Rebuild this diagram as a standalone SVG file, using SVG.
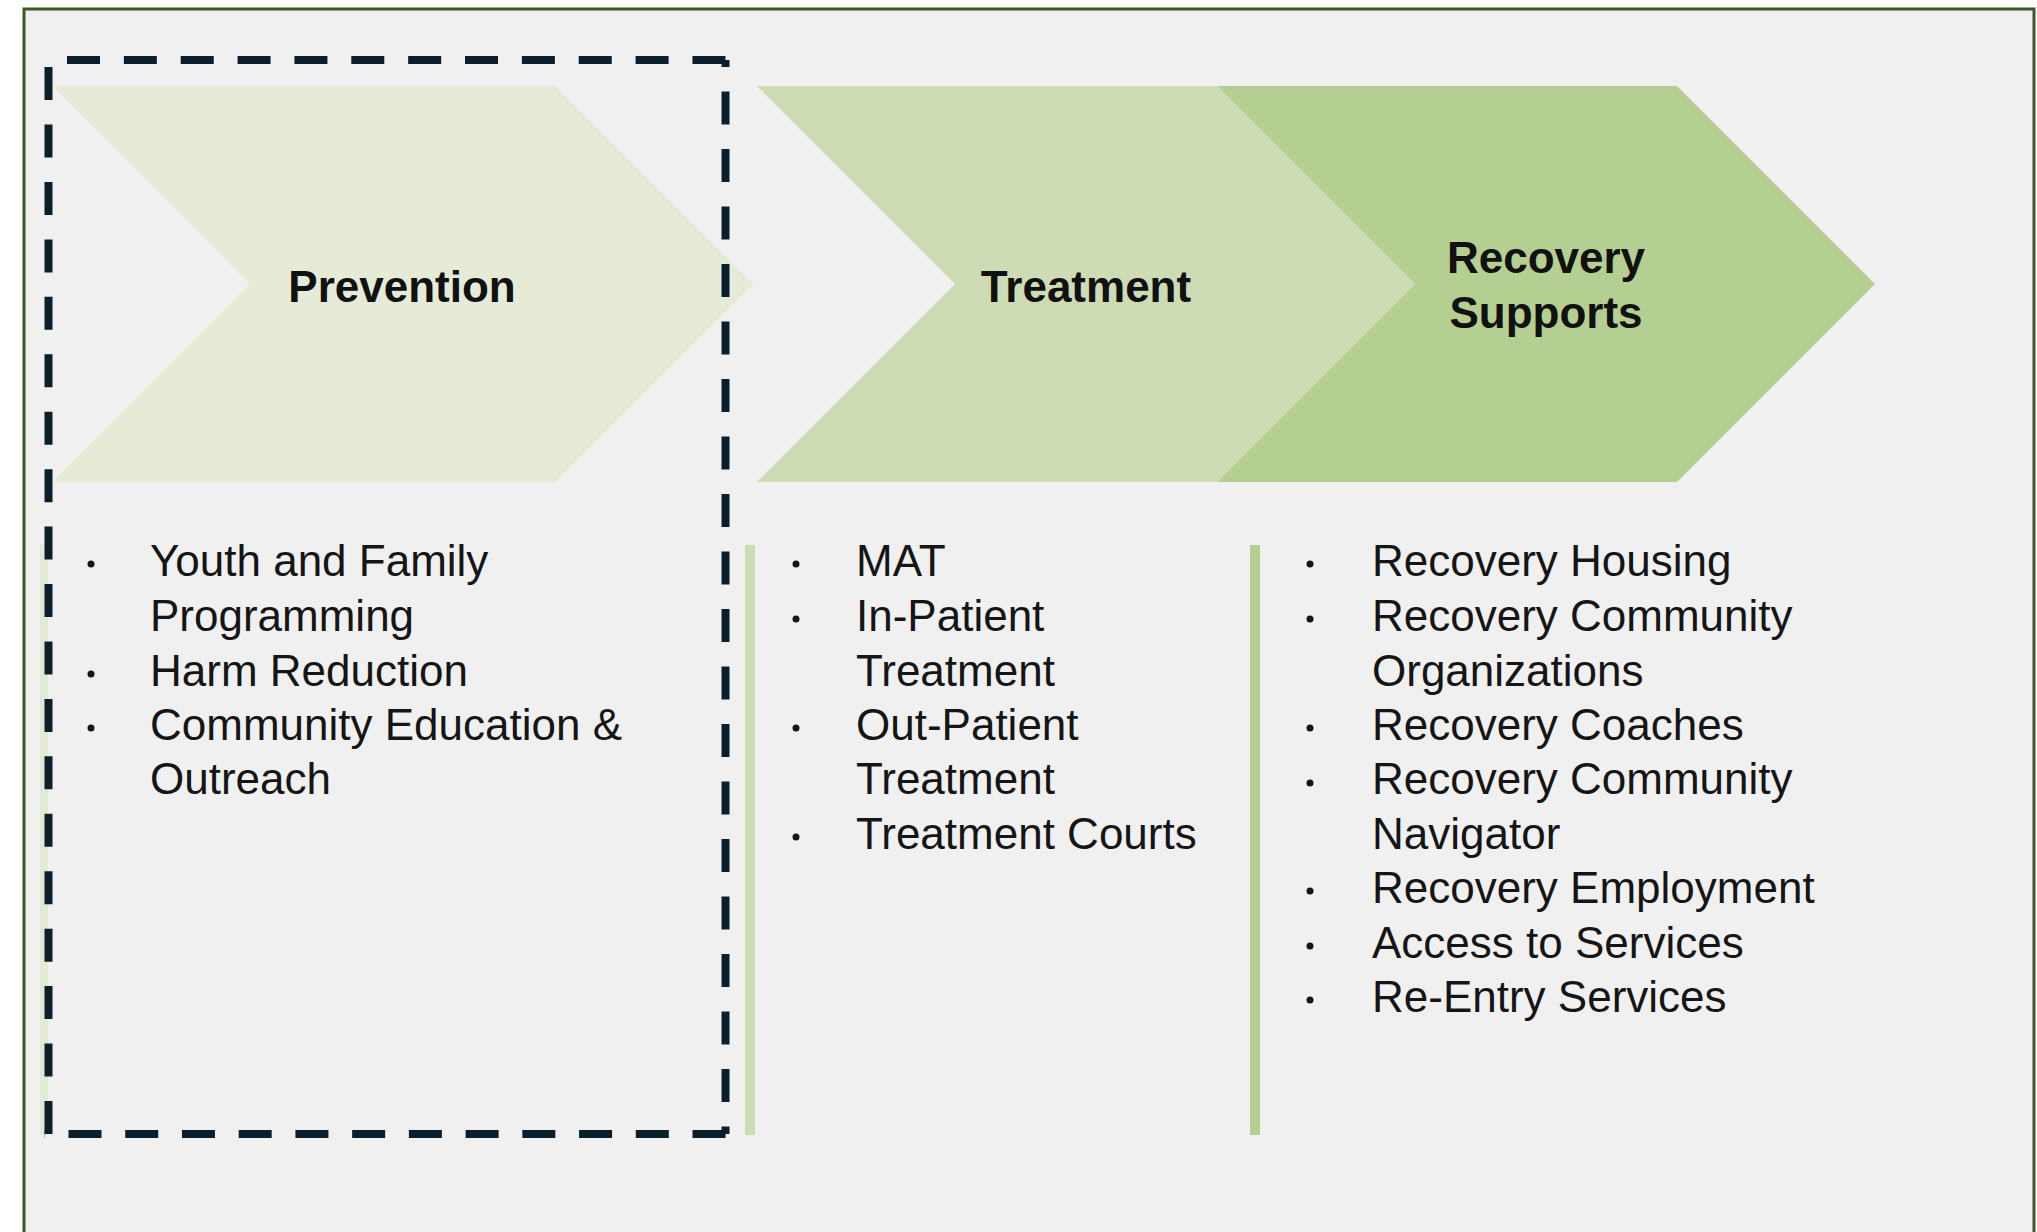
<svg xmlns="http://www.w3.org/2000/svg" width="2037" height="1232" viewBox="0 0 2037 1232">
  <style>
    .hdr { font-family: "Liberation Sans", Arial, sans-serif; font-weight: bold; font-size: 44px; fill: #111111; text-anchor: middle; }
    .item { font-family: "Liberation Sans", Arial, sans-serif; font-size: 44px; fill: #151515; }
    .dot { fill: #151515; }
    .dash { fill: none; stroke: #0b1e2c; stroke-width: 8; }
  </style>
  <rect x="0" y="0" width="2037" height="1232" fill="#ffffff"/>
  <rect id="frame" x="24" y="9" width="2010" height="1240" fill="#f0f0f0" stroke="#3d5826" stroke-width="3"/>

  <g id="separators">
    <line x1="44" y1="545" x2="44" y2="1135" stroke="#e3ead3" stroke-width="8"/>
    <line x1="750" y1="545" x2="750" y2="1135" stroke="#cddcb4" stroke-width="10"/>
    <line x1="1255" y1="545" x2="1255" y2="1135" stroke="#b5cf92" stroke-width="10"/>
  </g>

  <g id="prevention">
    <polygon points="53,86 556,86 754,284 556,482 53,482 250,284" fill="#e5ebd7"/>
    <text class="hdr" x="402" y="302">Prevention</text>
  </g>
  <g id="treatment">
    <polygon points="757,86 1217,86 1415,284 1217,482 757,482 955,284" fill="#cddcb4"/>
    <text class="hdr" x="1086" y="302">Treatment</text>
  </g>
  <g id="recovery">
    <polygon points="1217,86 1677,86 1875,284 1677,482 1217,482 1415,284" fill="#b5cf92"/>
    <text class="hdr" x="1546" y="273">Recovery</text>
    <text class="hdr" x="1546" y="328">Supports</text>
  </g>

  <g id="prevention-focus">
    <path class="dash" d="M48.5,60 H729.5" stroke-dasharray="33 23.86" stroke-dashoffset="38.36"/>
    <path class="dash" d="M725.5,60 V1134" stroke-dasharray="33 24.5" stroke-dashoffset="26"/>
    <path class="dash" d="M44.5,1134 H729.5" stroke-dasharray="33 23.73" stroke-dashoffset="32.73"/>
    <path class="dash" d="M48.5,1138 V60" stroke-dasharray="33 24.44" stroke-dashoffset="-4"/>
  </g>

  <g id="prevention-list">
    <circle class="dot" cx="91" cy="564" r="3.5"/>
    <text class="item" x="150" y="576">Youth and Family</text>
    <text class="item" x="150" y="631">Programming</text>
    <circle class="dot" cx="91" cy="674" r="3.5"/>
    <text class="item" x="150" y="686">Harm Reduction</text>
    <circle class="dot" cx="91" cy="728" r="3.5"/>
    <text class="item" x="150" y="740">Community Education &amp;</text>
    <text class="item" x="150" y="794">Outreach</text>
  </g>

  <g id="treatment-list">
    <circle class="dot" cx="796" cy="564" r="3.5"/>
    <text class="item" x="856" y="576">MAT</text>
    <circle class="dot" cx="796" cy="619" r="3.5"/>
    <text class="item" x="856" y="631">In-Patient</text>
    <text class="item" x="856" y="686">Treatment</text>
    <circle class="dot" cx="796" cy="728" r="3.5"/>
    <text class="item" x="856" y="740">Out-Patient</text>
    <text class="item" x="856" y="794">Treatment</text>
    <circle class="dot" cx="796" cy="837" r="3.5"/>
    <text class="item" x="856" y="849">Treatment Courts</text>
  </g>

  <g id="recovery-list">
    <circle class="dot" cx="1310" cy="564" r="3.5"/>
    <text class="item" x="1372" y="576">Recovery Housing</text>
    <circle class="dot" cx="1310" cy="619" r="3.5"/>
    <text class="item" x="1372" y="631">Recovery Community</text>
    <text class="item" x="1372" y="686">Organizations</text>
    <circle class="dot" cx="1310" cy="728" r="3.5"/>
    <text class="item" x="1372" y="740">Recovery Coaches</text>
    <circle class="dot" cx="1310" cy="783" r="3.5"/>
    <text class="item" x="1372" y="794">Recovery Community</text>
    <text class="item" x="1372" y="849">Navigator</text>
    <circle class="dot" cx="1310" cy="891" r="3.5"/>
    <text class="item" x="1372" y="903">Recovery Employment</text>
    <circle class="dot" cx="1310" cy="946" r="3.5"/>
    <text class="item" x="1372" y="958">Access to Services</text>
    <circle class="dot" cx="1310" cy="1000" r="3.5"/>
    <text class="item" x="1372" y="1012">Re-Entry Services</text>
  </g>
</svg>
